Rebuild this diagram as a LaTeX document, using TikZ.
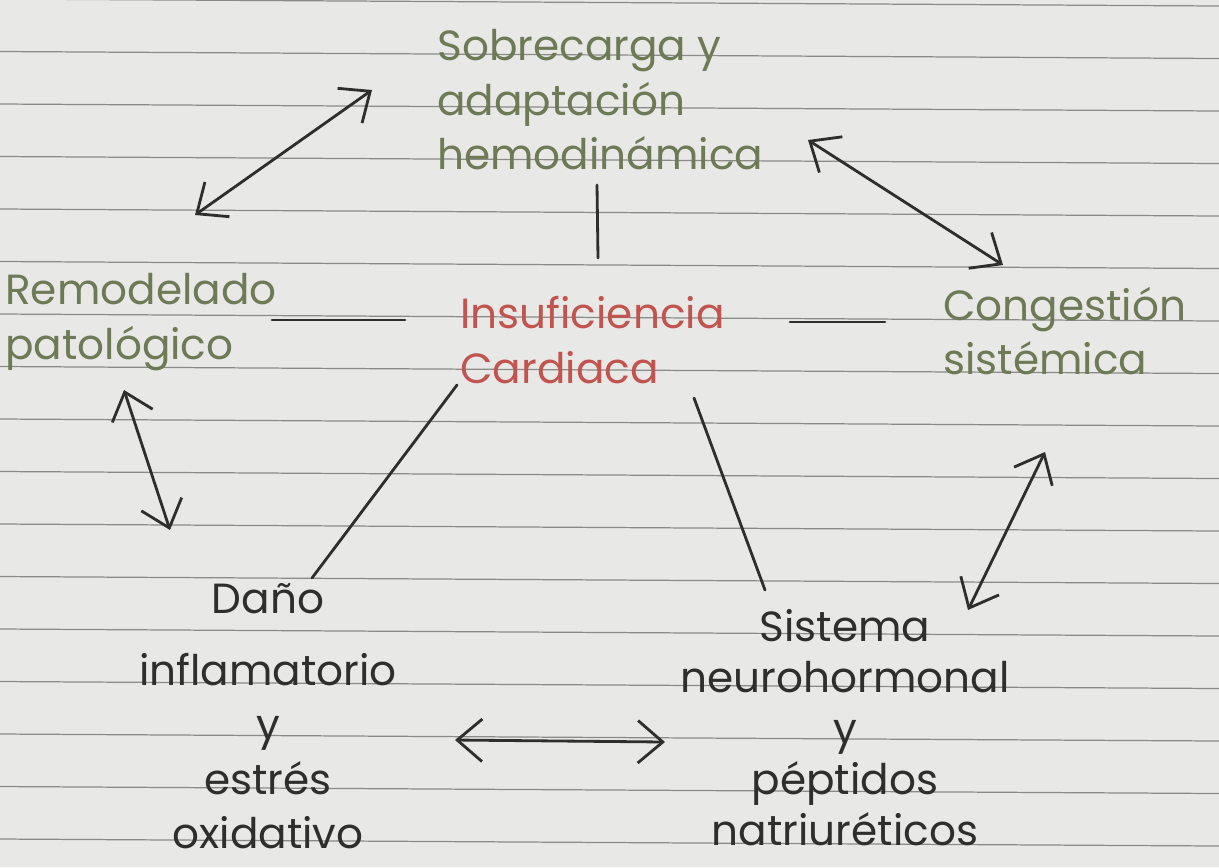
\documentclass[tikz,border=0pt]{standalone}
\usepackage{fontspec}
\setmainfont{Poppins}
\usetikzlibrary{arrows.meta}
\definecolor{paper}{HTML}{E8E8E6}
\definecolor{rulecol}{HTML}{8A8A88}
\definecolor{pencil}{HTML}{6E7A55}
\definecolor{redink}{HTML}{C2544F}
\definecolor{darkink}{HTML}{2E2E2E}
\begin{document}
\begin{tikzpicture}[x=0.02cm,y=-0.02cm,
  ruled/.style={draw=rulecol, line width=0.7pt},
  ink/.style={line width=1.6pt, draw=darkink, line cap=round, line join=round},
  dbl/.style={ink, {Straight Barb[length=0.5cm,width=0.85cm]}-{Straight Barb[length=0.5cm,width=0.85cm]}},
  lbl/.style={font=\fontsize{24}{31}\selectfont, inner sep=0pt},
  green/.style={lbl, text=pencil},
  red/.style={lbl, text=redink},
  dark/.style={lbl, text=darkink}]
\useasboundingbox (0,0) rectangle (1219,867);
\fill[paper] (0,0) rectangle (1219,867);
\foreach \k in {-2,...,14}
  \draw[ruled] (0,{104+52.5*\k}) -- (1219,{111+52.5*\k});

% texts
\node[green, align=left, anchor=west] (sob) at (437,100) {Sobrecarga y\\adaptación\\hemodinámica};
\node[red, align=left, anchor=west] (ic) at (460,340) {Insuficiencia\\Cardiaca};
\node[green, align=left, anchor=west] (rem) at (5,322) {Remodelado\\patológico};
\node[green, align=left, anchor=west] (con) at (943,331) {Congestión\\sistémica};
\node[dark, align=center] (dan) at (268,716) {Daño\\[10pt]inflamatorio\\y\\estrés\\oxidativo};
\node[dark, align=center, font=\fontsize{24}{29}\selectfont] (sis) at (845,728) {Sistema\\neurohormonal\\y\\péptidos\\natriuréticos};

% connector ends
\coordinate (a1) at (372,90);  \coordinate (a2) at (195,215);
\coordinate (b1) at (597,185); \coordinate (b2) at (598,258);
\coordinate (c1) at (272,320); \coordinate (c2) at (405,320);
\coordinate (d1) at (790,322); \coordinate (d2) at (885,322);
\coordinate (e1) at (808,140); \coordinate (e2) at (1003,265);
\coordinate (f1) at (124,390); \coordinate (f2) at (170,530);
\coordinate (g1) at (457,385); \coordinate (g2) at (312,578);
\coordinate (h1) at (694,398); \coordinate (h2) at (765,590);
\coordinate (i1) at (1045,452); \coordinate (i2) at (968,610);
\coordinate (j1) at (455,740); \coordinate (j2) at (665,742);

\draw[dbl] (a2) -- (a1);
\draw[ink] (b1) -- (b2);
\draw[ink] (c1) -- (c2);
\draw[ink] (d1) -- (d2);
\draw[dbl] (e1) -- (e2);
\draw[dbl] (f1) -- (f2);
\draw[ink] (g1) -- (g2);
\draw[ink] (h1) -- (h2);
\draw[dbl] (i2) -- (i1);
\draw[dbl] (j1) -- (j2);
\end{tikzpicture}
\end{document}
